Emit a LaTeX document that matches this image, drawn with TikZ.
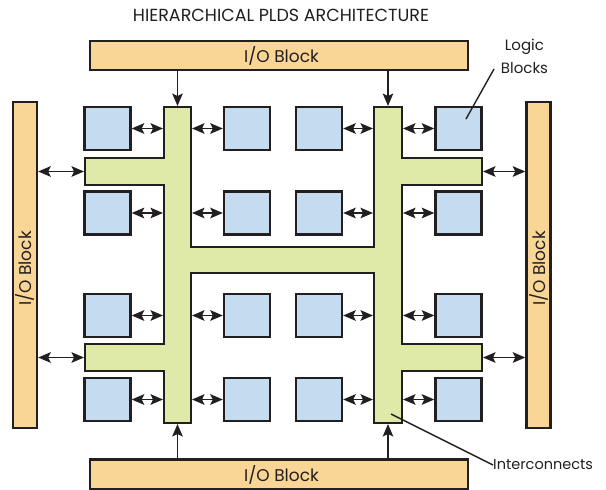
\documentclass[tikz,border=0pt]{standalone}
\usepackage{fontspec}
\setmainfont{Poppins}
\usetikzlibrary{arrows.meta}
\definecolor{ioorange}{RGB}{249,213,150}
\definecolor{lblue}{RGB}{197,219,239}
\definecolor{lgreen}{RGB}{223,234,169}
\definecolor{ink}{RGB}{35,31,32}
\begin{document}
\begin{tikzpicture}[x=1pt,y=-1pt,
  iobox/.style={draw=ink, line width=2.3pt, fill=ioorange, inner sep=0pt, text=ink,
    font=\fontsize{17}{20}\selectfont},
  logicbox/.style={draw=ink, line width=2.3pt, fill=lblue, minimum width=46pt,
    minimum height=43pt, inner sep=0pt},
  tip/.tip={Stealth[length=12.5pt,width=10.5pt,inset=2.5pt]},
  link/.style={ink, line width=1.8pt, tip-tip},
  feed/.style={ink, line width=1.8pt, -tip},
  leader/.style={ink, line width=1.4pt},
  lbl/.style={font=\fontsize{15}{23}\selectfont, text=ink, inner sep=0pt, align=center}]
\useasboundingbox (0,0) rectangle (606,490);

% title
\node[lbl, font=\fontsize{17.5}{20}\selectfont] (title) at (281,15) {HIERARCHICAL PLDS ARCHITECTURE};

% I/O blocks
\node[iobox, minimum width=378pt, minimum height=29pt] (TIO) at (279,55.5) {\hspace*{5pt}I/O Block};
\node[iobox, minimum width=378pt, minimum height=30pt] (BIO) at (279,474.5) {\hspace*{5pt}I/O Block};
\node[iobox, rotate=90, minimum width=326pt, minimum height=24pt] (LIO) at (25,265) {I/O Block\hspace*{7pt}};
\node[iobox, rotate=90, minimum width=326pt, minimum height=24pt] (RIO) at (538.5,265) {I/O Block\hspace*{7pt}};

% interconnect fabric
\draw[ink, line width=2.3pt, fill=lgreen, line join=miter]
  (164,107) -- (191,107) -- (191,247) -- (374,247) -- (374,107) -- (402,107)
  -- (402,158) -- (482,158) -- (482,185) -- (402,185) -- (402,344) -- (482,344)
  -- (482,371) -- (402,371) -- (402,423) -- (374,423) -- (374,273) -- (191,273)
  -- (191,423) -- (164,423) -- (164,371) -- (85,371) -- (85,344) -- (164,344)
  -- (164,185) -- (85,185) -- (85,158) -- (164,158) -- cycle;

\coordinate (LBl) at (163,0);
\coordinate (LBr) at (192,0);
\coordinate (RBl) at (373,0);
\coordinate (RBr) at (403,0);
\coordinate (armUL) at (84,171.5);
\coordinate (armUR) at (483,171.5);
\coordinate (armLL) at (84,357.5);
\coordinate (armLR) at (483,357.5);
\coordinate (barLtop) at (177.5,106);
\coordinate (barRtop) at (388,106);
\coordinate (barLbot) at (177.5,424);
\coordinate (barRbot) at (388,424);

% logic blocks
\foreach \r/\y in {1/128.5,2/213,3/315.5,4/399.5}{
  \node[logicbox] (b\r1) at (107.5,\y) {};
  \node[logicbox] (b\r2) at (247,\y) {};
  \node[logicbox] (b\r3) at (319,\y) {};
  \node[logicbox] (b\r4) at (458.5,\y) {};
  \draw[link] (b\r1.east) -- (b\r1.east -| LBl);
  \draw[link] (b\r2.west) -- (b\r2.west -| LBr);
  \draw[link] (b\r3.east) -- (b\r3.east -| RBl);
  \draw[link] (b\r4.west) -- (b\r4.west -| RBr);
}

% I/O connections
\draw[link] (LIO.south |- armUL) -- (armUL);
\draw[link] (LIO.south |- armLL) -- (armLL);
\draw[link] (RIO.north |- armUR) -- (armUR);
\draw[link] (RIO.north |- armLR) -- (armLR);
\draw[feed] (TIO.south -| barLtop) -- (barLtop);
\draw[feed] (TIO.south -| barRtop) -- (barRtop);
\draw[feed] (BIO.north -| barLbot) -- (barLbot);
\draw[feed] (BIO.north -| barRbot) -- (barRbot);

% labels
\node[lbl] (logiclbl) at (524.5,56) {Logic\\Blocks};
\coordinate (logicpt) at (466,119);
\draw[leader] (494,69) -- (logicpt);
\node[lbl, anchor=west, font=\fontsize{14.5}{18}\selectfont] (interlbl) at (493,465) {Interconnects};
\coordinate (interpt) at (391,414);
\draw[leader] (interlbl.west) -- (interpt);
\end{tikzpicture}
\end{document}
